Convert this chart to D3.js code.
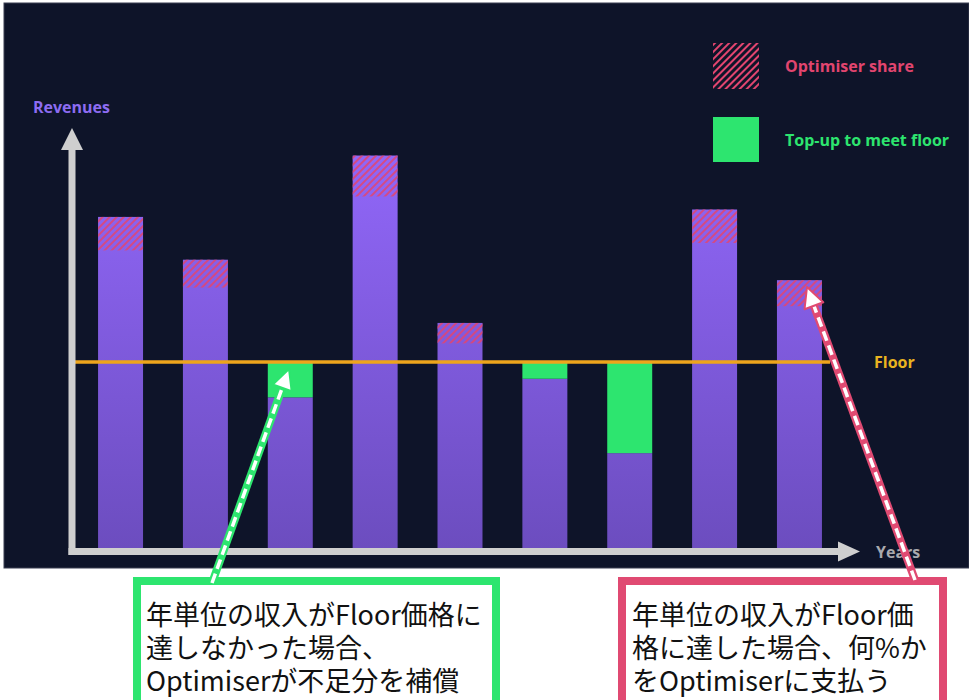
<!DOCTYPE html>
<html>
<head>
<meta charset="utf-8">
<script src="https://cdn.jsdelivr.net/npm/d3@7/dist/d3.min.js"></script>
<style>
  html, body { margin: 0; padding: 0; background: #ffffff; }
  svg { display: block; }
</style>
</head>
<body>
<svg id="chart" width="969" height="700"></svg>
<script>
// Yearly revenue model: revenue per year, the optimiser's share of revenue above the floor,
// and the top-up paid when a year falls short of the floor.
const years = ["Y1", "Y2", "Y3", "Y4", "Y5", "Y6", "Y7", "Y8", "Y9"];
const revenues = [89, 77.5, 40.5, 105.5, 60.5, 45.5, 25.5, 91, 72];
const optimiserShare = [9, 7.5, 0, 11, 5.5, 0, 0, 9, 7];
const topUp = [0, 0, 9.5, 0, 0, 4.5, 24.5, 0, 0];
const floorValue = 50;

const legendItems = ["Optimiser share", "Top-up to meet floor"];
const axisLabels = { y: "Revenues", x: "Years", floor: "Floor" };
const noteShortfall = ["年単位の収入がFloor価格に", "達しなかった場合、", "Optimiserが不足分を補償"];
const noteSurplus = ["年単位の収入がFloor価", "格に達した場合、何%か", "をOptimiserに支払う"];

const svg = d3.select("#chart");
const bg = "#0e1429";
const purpleTop = "#9167f9", purpleBottom = "#6c4dbf";
const pink = "#e2456f", green = "#2de56f", floorColor = "#eea51c", axisColor = "#cfcfcf";

// dark panel
svg.append("rect").attr("x", 4).attr("y", 3).attr("width", 965).attr("height", 565)
  .attr("fill", bg).attr("stroke", "#3a3f52").attr("stroke-width", 1);

const defs = svg.append("defs");
const grad = defs.append("linearGradient").attr("id", "barGrad")
  .attr("gradientUnits", "userSpaceOnUse").attr("x1", 0).attr("x2", 0).attr("y1", 150).attr("y2", 548);
grad.append("stop").attr("offset", "0%").attr("stop-color", purpleTop);
grad.append("stop").attr("offset", "100%").attr("stop-color", purpleBottom);

const hatch = defs.append("pattern").attr("id", "hatch")
  .attr("patternUnits", "userSpaceOnUse").attr("width", 5).attr("height", 5)
  .attr("patternTransform", "rotate(45)");
hatch.append("line").attr("x1", 1).attr("x2", 1).attr("y1", 0).attr("y2", 5)
  .attr("stroke", pink).attr("stroke-width", 2);

// scales
const x = d3.scaleBand().domain(years).range([76, 844]).paddingInner(0.47).paddingOuter(0.26);
const y = d3.scaleLinear().domain([0, 100]).range([548, 176]);

const g = svg.append("g");

// revenue bars
g.selectAll("rect.rev").data(years).join("rect").attr("class", "rev")
  .attr("x", d => x(d)).attr("width", x.bandwidth())
  .attr("y", (d, i) => y(revenues[i])).attr("height", (d, i) => y(0) - y(revenues[i]))
  .attr("fill", "url(#barGrad)");

// optimiser share (hatched cap of the bar)
g.selectAll("rect.share").data(years.filter((d, i) => optimiserShare[i] > 0)).join("rect")
  .attr("class", "share")
  .attr("x", d => x(d)).attr("width", x.bandwidth())
  .attr("y", d => y(revenues[years.indexOf(d)]))
  .attr("height", d => { const i = years.indexOf(d); return y(revenues[i] - optimiserShare[i]) - y(revenues[i]); })
  .attr("fill", "url(#hatch)").attr("opacity", 0.85);

// top-up to floor
g.selectAll("rect.topup").data(years.filter((d, i) => topUp[i] > 0)).join("rect")
  .attr("class", "topup")
  .attr("x", d => x(d)).attr("width", x.bandwidth())
  .attr("y", d => { const i = years.indexOf(d); return y(revenues[i] + topUp[i]); })
  .attr("height", d => { const i = years.indexOf(d); return y(revenues[i]) - y(revenues[i] + topUp[i]); })
  .attr("fill", green);

// floor line
g.append("line").attr("x1", 72).attr("x2", 830).attr("y1", y(floorValue)).attr("y2", y(floorValue))
  .attr("stroke", floorColor).attr("stroke-width", 3.5);

// axes with arrow heads
const ax = svg.append("g").attr("fill", axisColor);
ax.append("rect").attr("x", 68.5).attr("y", 148).attr("width", 7).attr("height", 407);
ax.append("rect").attr("x", 68.5).attr("y", 548).attr("width", 772).attr("height", 7);
ax.append("path").attr("d", "M72,128 L83,150 L61,150 Z");
ax.append("path").attr("d", "M860,551.5 L838,541.5 L838,561.5 Z");

// axis / floor labels
const labelFont = "'Open Sans', 'Noto Sans', sans-serif";
function label(tx, ty, s, color) {
  svg.append("text").attr("x", tx).attr("y", ty).text(s)
    .attr("font-family", labelFont).attr("font-weight", 700).attr("font-size", 16).attr("fill", color);
}
label(33, 113, axisLabels.y, "#8d6cf2");
label(876, 558, axisLabels.x, "#a9a9ad");
label(874, y(floorValue) + 5.5, axisLabels.floor, "#e9b320");

// legend
svg.append("rect").attr("x", 713).attr("y", 43).attr("width", 46).attr("height", 46).attr("fill", "url(#hatch)");
svg.append("rect").attr("x", 713).attr("y", 117).attr("width", 46).attr("height", 45).attr("fill", green);
label(785, 71.5, legendItems[0], pink);
label(785, 145.5, legendItems[1], green);

// callout boxes
function noteBox(x0, x1, color, lines, tx) {
  svg.append("rect").attr("x", x0 + 4).attr("y", 581).attr("width", x1 - x0 - 8).attr("height", 140)
    .attr("fill", "#ffffff").attr("stroke", color).attr("stroke-width", 8);
  lines.forEach((s, i) => {
    svg.append("text").attr("x", tx).attr("y", 625 + i * 33).text(s)
      .attr("font-family", "'Noto Sans CJK JP', sans-serif")
      .attr("font-size", 27).attr("fill", "#111111");
  });
}
noteBox(133, 500, green, noteShortfall, 146);
noteBox(618, 947, "#e04a72", noteSurplus, 632);

// dashed pointer arrows
function pointer(x1, y1, x2, y2, color) {
  const dx = x2 - x1, dy = y2 - y1, len = Math.hypot(dx, dy);
  const ux = dx / len, uy = dy / len, px = -uy, py = ux;
  const hl = 20, hw = 10;
  const bx = x2 - ux * hl, by = y2 - uy * hl;
  svg.append("line").attr("x1", x1).attr("y1", y1).attr("x2", bx).attr("y2", by)
    .attr("stroke", color).attr("stroke-width", 8);
  svg.append("line").attr("x1", x1).attr("y1", y1).attr("x2", bx).attr("y2", by)
    .attr("stroke", "#ffffff").attr("stroke-width", 3.5).attr("stroke-dasharray", "10,5");
  svg.append("path")
    .attr("d", `M${x2},${y2} L${bx + px * hw},${by + py * hw} L${bx - px * hw},${by - py * hw} Z`)
    .attr("fill", "#ffffff").attr("stroke", color).attr("stroke-width", 2).attr("stroke-linejoin", "round");
}
pointer(212, 583, 289, 369, green);
pointer(915, 580, 807, 287, "#e04a72");
</script>
</body>
</html>
